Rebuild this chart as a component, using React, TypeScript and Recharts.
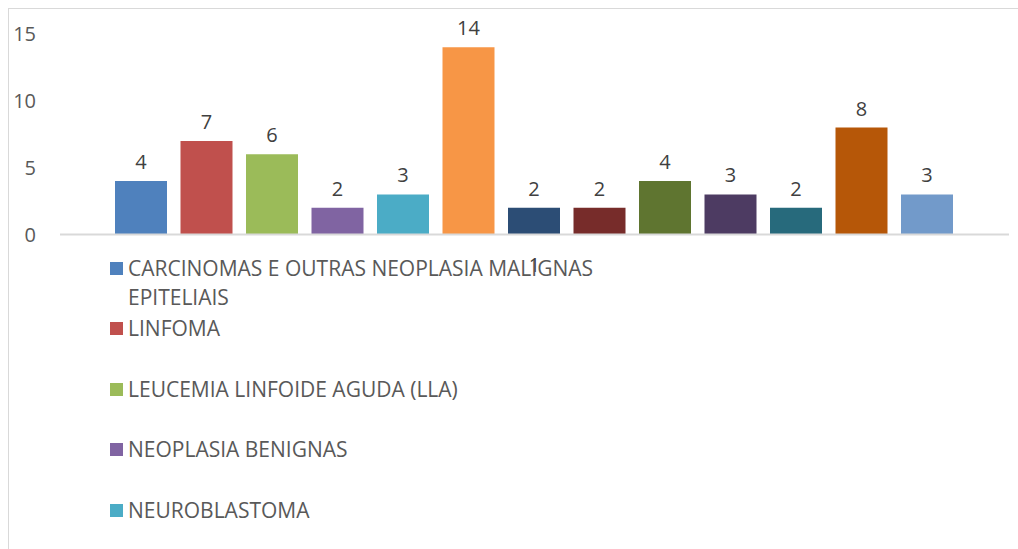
import { Bar, BarChart, LabelList, Legend, XAxis, YAxis } from "recharts";

const categories = ["1"];
const seriesNames = [
  "CARCINOMAS E OUTRAS NEOPLASIA MALIGNAS EPITELIAIS",
  "LINFOMA",
  "LEUCEMIA LINFOIDE AGUDA (LLA)",
  "NEOPLASIA BENIGNAS",
  "NEUROBLASTOMA",
  "Série 6",
  "Série 7",
  "Série 8",
  "Série 9",
  "Série 10",
  "Série 11",
  "Série 12",
  "Série 13",
];
const seriesValues = [4, 7, 6, 2, 3, 14, 2, 2, 4, 3, 2, 8, 3];
const seriesColors = [
  "#4f81bd", "#c0504d", "#9bbb59", "#8064a2", "#4bacc6", "#f79646",
  "#2c4d75", "#772c2a", "#5f7530", "#4d3b62", "#276a7c", "#b65708", "#729aca",
];
const yTicks = [0, 5, 10, 15];

const data = categories.map((cat) => {
  const row: Record<string, any> = { name: cat };
  seriesValues.forEach((v, i) => (row[`s${i}`] = v));
  return row;
});

// keep series order, only the first 5 entries fit in the original frame
const LegendList = ({ payload }: any) => {
  const items = [...(payload || [])].sort(
    (a: any, b: any) => seriesNames.indexOf(a.value) - seriesNames.indexOf(b.value)
  );
  return (
    <div>
      {items.slice(0, 5).map((p: any) => (
        <div key={p.value} style={{ height: 60.5, display: "flex", alignItems: "flex-start" }}>
          <span style={{ width: 13, height: 13, marginTop: 8, background: p.color, flex: "none" }} />
          <span style={{ marginLeft: 5, maxWidth: 490, lineHeight: "29px", fontSize: 21, color: "#595959" }}>
            {p.value}
          </span>
        </div>
      ))}
    </div>
  );
};

export default function App() {
  return (
    <div style={{ position: "fixed", left: 0, top: 0, width: 1018, height: 549, overflow: "hidden", background: "#fff", fontFamily: "'Open Sans', sans-serif" }}>
      <div style={{ position: "absolute", left: 8, top: 8, width: 1030, height: 560, border: "1.5px solid #d9d9d9" }} />
      <div style={{ position: "absolute", left: 0, top: 0 }}>
        <BarChart
          width={1018}
          height={549}
          data={data}
          margin={{ top: 34, right: 9, left: 0, bottom: 0 }}
          barCategoryGap={55}
          barGap={13.5}
        >
          <XAxis
            dataKey="name"
            height={19.5}
            tickSize={0}
            tickMargin={23}
            axisLine={{ stroke: "#d9d9d9", strokeWidth: 2 }}
            tick={{ fill: "#404040", fontSize: 20 }}
          />
          <YAxis
            width={60}
            domain={[0, 15]}
            ticks={yTicks}
            axisLine={false}
            tickLine={false}
            tickSize={0}
            tickMargin={24}
            tick={{ fill: "#595959", fontSize: 20 }}
          />
          <Legend
            verticalAlign="bottom"
            content={<LegendList />}
            wrapperStyle={{ top: 253.5, left: 110, width: 620, height: 295, overflow: "hidden" }}
          />
          {seriesNames.map((name, i) => (
            <Bar key={name} dataKey={`s${i}`} name={name} fill={seriesColors[i]} isAnimationActive={false}>
              <LabelList dataKey={`s${i}`} position="top" offset={12} fill="#404040" fontSize={20} />
            </Bar>
          ))}
        </BarChart>
      </div>
    </div>
  );
}
